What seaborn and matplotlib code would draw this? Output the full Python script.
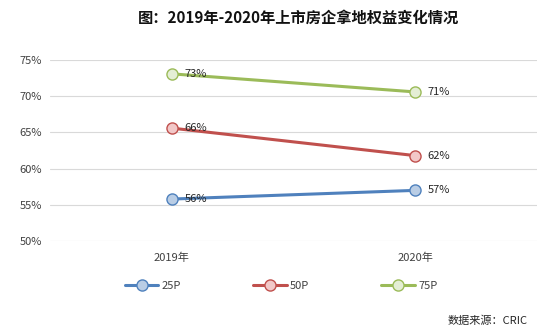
import matplotlib
matplotlib.use("Agg")
import matplotlib.pyplot as plt
from matplotlib.lines import Line2D
import seaborn as sns
import pandas as pd

years = ["2019年", "2020年"]
series = ["25P", "50P", "75P"]
p25 = [55.8, 57.0]
p50 = [65.6, 61.8]
p75 = [73.1, 70.6]
labels25 = ["56%", "57%"]
labels50 = ["66%", "62%"]
labels75 = ["73%", "71%"]
yticks = [50, 55, 60, 65, 70, 75]

line_colors = ["#4F81BD", "#C0504D", "#9BBB59"]
face_colors = ["#B9CDE5", "#F2C8C8", "#E4EED5"]

sns.set_theme(style="white")
plt.rcParams["font.family"] = ["Noto Sans CJK SC", "DejaVu Sans"]

df = pd.DataFrame({
    "year": years * 3,
    "series": [s for s in series for _ in years],
    "value": p25 + p50 + p75,
})

fig = plt.figure(figsize=(5.47, 3.32), dpi=100)
ax = fig.add_axes([0.0914, 0.274, 0.8906, 0.545])

sns.lineplot(data=df, x="year", y="value", hue="series", palette=line_colors,
             marker="o", markersize=8, linewidth=2.2, ax=ax, legend=False,
             sort=False)
for ln, fc, c in zip(ax.lines, face_colors, line_colors):
    ln.set_markerfacecolor(fc)
    ln.set_markeredgecolor(c)
    ln.set_markeredgewidth(1.0)

all_vals = [p25, p50, p75]
all_labels = [labels25, labels50, labels75]
for vals, labs in zip(all_vals, all_labels):
    for i, (v, lab) in enumerate(zip(vals, labs)):
        ax.annotate(lab, (i, v), xytext=(9, 0), textcoords="offset points",
                    ha="left", va="center", fontsize=8, color="#262626")

ax.set_xlim(-0.5, 1.5)
ax.set_ylim(50, 75)
ax.set_yticks(yticks)
ax.set_yticklabels([f"{t}%" for t in yticks])
ax.grid(axis="y", color="#D9D9D9", linewidth=0.8)
ax.set_axisbelow(True)
for s in ax.spines.values():
    s.set_visible(False)
ax.tick_params(axis="both", length=0, labelsize=8, colors="#404040", pad=6)
ax.tick_params(axis="x", pad=8)
ax.set_xlabel("")
ax.set_ylabel("")

handles = [Line2D([0], [0], color=c, lw=2.2, marker="o", markersize=8,
                  markerfacecolor=fc, markeredgecolor=c)
           for c, fc in zip(line_colors, face_colors)]
fig.legend(handles, series, loc="center", bbox_to_anchor=(0.514, 0.138), ncol=3,
           frameon=False, fontsize=8, columnspacing=6.5, handlelength=3,
           handletextpad=0.3, labelcolor="#404040")

fig.text(0.545, 0.946, "图：2019年-2020年上市房企拿地权益变化情况", ha="center",
         va="center", fontsize=11, fontweight="bold", color="#111111")
fig.text(0.965, 0.035, "数据来源：CRIC", ha="right", va="center", fontsize=8,
         color="#262626")

fig.savefig("out.png", dpi=100)
